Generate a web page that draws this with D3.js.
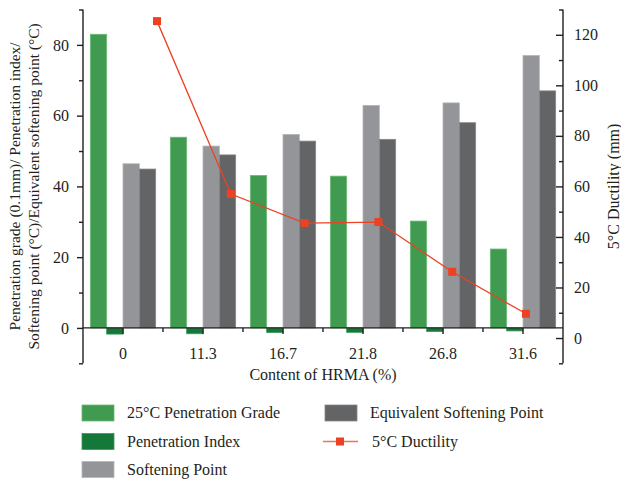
<!DOCTYPE html>
<html>
<head>
<meta charset="utf-8">
<script src="https://cdn.jsdelivr.net/npm/d3@7"></script>
<style>
  html, body { margin: 0; padding: 0; background: #fff; }
  svg { display: block; }
  text { font-family: "Liberation Serif", "DejaVu Serif", serif; fill: #231f20; }
</style>
</head>
<body>
<svg id="chart" width="621" height="481"></svg>
<script>
// HRMA content (%) categories
const categories = ["0", "11.3", "16.7", "21.8", "26.8", "31.6"];

// Bar series (left axis)
const penetrationGrade = [83.0, 53.9, 43.1, 42.9, 30.2, 22.3];
const penetrationIndex = [-1.75, -1.65, -1.3, -1.25, -1.05, -0.85];
const softeningPoint = [46.4, 51.4, 54.7, 62.9, 63.6, 77.0];
const equivSoftening = [44.9, 48.9, 52.8, 53.3, 58.0, 67.0];

// Line series (right axis)
const ductility = [125.4, 57.0, 45.5, 45.9, 26.2, 9.6];

// Axis ticks
const leftTicks = [0, 20, 40, 60, 80];
const leftMinor = [-10, 10, 30, 50, 70, 90];
const rightTicks = [0, 20, 40, 60, 80, 100, 120];
const rightMinor = [-10, 10, 30, 50, 70, 90, 110, 130];

const barSeries = [
  { name: "25°C Penetration Grade", values: penetrationGrade, fill: "#409a4f", stroke: "#6cba79" },
  { name: "Penetration Index", values: penetrationIndex, fill: "#137838", stroke: "#3d9a5a" },
  { name: "Softening Point", values: softeningPoint, fill: "#939598", stroke: "#b4b6b8" },
  { name: "Equivalent Softening Point", values: equivSoftening, fill: "#636466", stroke: "#858688" }
];
const lineColor = "#ee4124";
const FS = 16;

const svg = d3.select("#chart");
const plot = { left: 83, right: 563, top: 9.5, bottom: 363.3 };

const x = d3.scaleBand().domain(categories).range([plot.left, plot.right]).padding(0);
const x1 = d3.scaleBand().domain(d3.range(barSeries.length))
  .range([0, x.bandwidth() * 0.8167]).padding(0);
const groupOffset = (x.bandwidth() - x1.range()[1]) / 2;

// line layer sits on its own point scale across the plot
const xLine = d3.scalePoint().domain(categories)
  .range([plot.left + 74, plot.right - 37]);

const yL = d3.scaleLinear().domain([-10, 90]).range([plot.bottom, plot.top]);
const yR = d3.scaleLinear().domain([-10, 130]).range([plot.bottom, plot.top]);

// bars
const groups = svg.append("g").selectAll("g").data(categories).join("g")
  .attr("transform", c => `translate(${x(c) + groupOffset},0)`);
barSeries.forEach((s, si) => {
  groups.append("rect")
    .attr("x", x1(si))
    .attr("width", x1.bandwidth())
    .attr("y", (c, i) => yL(Math.max(0, s.values[i])))
    .attr("height", (c, i) => Math.abs(yL(s.values[i]) - yL(0)))
    .attr("fill", s.fill)
    .attr("stroke", s.stroke)
    .attr("stroke-width", 0.8);
});

// ductility line
const pts = ductility.map((v, i) => [xLine(categories[i]), yR(v)]);
svg.append("path")
  .attr("d", d3.line()(pts))
  .attr("fill", "none")
  .attr("stroke", lineColor)
  .attr("stroke-width", 1.3);
svg.append("g").selectAll("rect").data(pts).join("rect")
  .attr("x", d => d[0] - 4).attr("y", d => d[1] - 4)
  .attr("width", 8).attr("height", 8)
  .attr("fill", lineColor);

const axisStroke = g => {
  g.selectAll("line").attr("stroke", "#231f20").attr("stroke-width", 1.4);
  g.selectAll("path").attr("stroke", "#231f20").attr("stroke-width", 1.4);
  g.selectAll("text").attr("font-size", FS).attr("fill", "#231f20")
    .attr("font-family", "Liberation Serif, serif");
};

// left axis
svg.append("g").attr("transform", `translate(${plot.left},0)`)
  .call(d3.axisLeft(yL).tickValues(leftTicks).tickSizeInner(6).tickSizeOuter(0).tickPadding(8))
  .call(axisStroke)
  .call(g => g.select(".domain").remove());
svg.append("g").attr("transform", `translate(${plot.left},0)`)
  .call(d3.axisLeft(yL).tickValues(leftMinor).tickSizeInner(4).tickSizeOuter(0).tickFormat(""))
  .call(axisStroke)
  .call(g => g.select(".domain").remove());
svg.append("line").attr("x1", plot.left).attr("x2", plot.left)
  .attr("y1", plot.top).attr("y2", plot.bottom)
  .attr("stroke", "#231f20").attr("stroke-width", 1.4);

// right axis, ticks pointing into the plot
svg.append("g").attr("transform", `translate(${plot.right},0)`)
  .call(d3.axisRight(yR).tickValues(rightTicks).tickSizeInner(-7).tickSizeOuter(0).tickPadding(11))
  .call(axisStroke)
  .call(g => g.select(".domain").remove());
svg.append("g").attr("transform", `translate(${plot.right},0)`)
  .call(d3.axisRight(yR).tickValues(rightMinor).tickSizeInner(-4).tickSizeOuter(0).tickFormat(""))
  .call(axisStroke)
  .call(g => g.select(".domain").remove());
svg.append("line").attr("x1", plot.right).attr("x2", plot.right)
  .attr("y1", plot.top).attr("y2", plot.bottom)
  .attr("stroke", "#231f20").attr("stroke-width", 1.4);

// category axis along the zero line
const y0 = yL(0);
svg.append("g").attr("transform", `translate(0,${y0})`)
  .call(d3.axisBottom(x).tickSizeInner(6).tickSizeOuter(0).tickPadding(14))
  .call(axisStroke)
  .call(g => g.select(".domain").attr("d", `M${plot.left},0H${plot.right}`));
svg.append("g").attr("transform", `translate(0,${y0})`)
  .selectAll("line").data(categories.slice(1)).join("line")
  .attr("x1", c => x(c)).attr("x2", c => x(c))
  .attr("y1", 0).attr("y2", 4)
  .attr("stroke", "#231f20").attr("stroke-width", 1.4);

// axis titles
svg.append("text")
  .attr("x", (plot.left + plot.right) / 2).attr("y", 380)
  .attr("text-anchor", "middle").attr("font-size", FS)
  .text("Content of HRMA (%)");

const leftTitle = svg.append("text")
  .attr("transform", `translate(0,${(plot.top + plot.bottom) / 2}) rotate(-90)`)
  .attr("text-anchor", "middle").attr("font-size", 15.5);
leftTitle.append("tspan").attr("x", 0).attr("y", 20)
  .text("Penetration grade (0.1mm)/ Penetration index/");
leftTitle.append("tspan").attr("x", 0).attr("y", 39)
  .text("Softening point (°C)/Equivalent softening point (°C)");

svg.append("text")
  .attr("transform", `translate(619,${(plot.top + plot.bottom) / 2}) rotate(-90)`)
  .attr("text-anchor", "middle").attr("font-size", FS)
  .text("5°C Ductility (mm)");

// legend
const legendItems = [
  { s: barSeries[0], col: 0, row: 0 },
  { s: barSeries[1], col: 0, row: 1 },
  { s: barSeries[2], col: 0, row: 2 },
  { s: barSeries[3], col: 1, row: 0 }
];
const colX = [82, 325];
const rowY = [405, 433.5, 461.5];
const legend = svg.append("g");
legendItems.forEach(d => {
  legend.append("rect")
    .attr("x", colX[d.col]).attr("y", rowY[d.row])
    .attr("width", 32).attr("height", 16)
    .attr("fill", d.s.fill).attr("stroke", d.s.stroke).attr("stroke-width", 0.8);
  legend.append("text")
    .attr("x", colX[d.col] + 45).attr("y", rowY[d.row] + 13)
    .attr("font-size", FS).text(d.s.name);
});
const ly = rowY[1] + 8;
legend.append("line").attr("x1", 323).attr("x2", 358).attr("y1", ly).attr("y2", ly)
  .attr("stroke", lineColor).attr("stroke-width", 1.3).attr("stroke-opacity", 0.75);
legend.append("rect").attr("x", 336).attr("y", ly - 4).attr("width", 8).attr("height", 8)
  .attr("fill", lineColor);
legend.append("text").attr("x", 372).attr("y", rowY[1] + 13)
  .attr("font-size", FS).text("5°C Ductility");
</script>
</body>
</html>
